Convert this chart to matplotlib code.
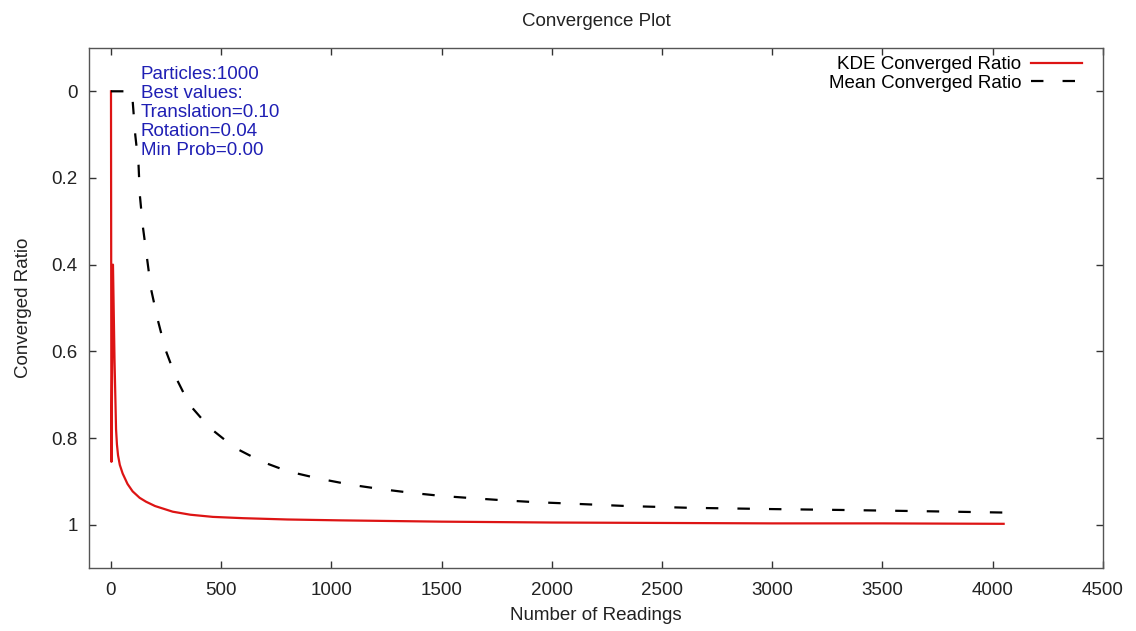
import matplotlib
matplotlib.use("Agg")
import matplotlib.pyplot as plt

plt.rcParams['font.family'] = ['Liberation Sans', 'DejaVu Sans']

# KDE converged ratio
kde_x = [0, 2, 9, 16, 23, 27, 32, 40, 53, 75, 98, 130, 159, 200, 280, 360, 462,
         600, 800, 1038, 1500, 2000, 2500, 3000, 3500, 4050]
kde_y = [0, 0.855, 0.40, 0.62, 0.780, 0.815, 0.840, 0.862, 0.882, 0.906, 0.923,
         0.938, 0.947, 0.957, 0.970, 0.977, 0.982, 0.985, 0.988, 0.990, 0.993,
         0.995, 0.996, 0.997, 0.997, 0.998]

# Mean converged ratio
mean_x = [0, 95, 98, 110, 125, 131, 144, 166, 182, 212, 247, 295, 356, 447,
          560, 682, 803, 947, 1090, 1227, 1371, 1507, 1644, 1788, 1924, 2068,
          2205, 2341, 2485, 2620, 3000, 3310, 3700, 4050]
mean_y = [0, 0, 0.02, 0.10, 0.17, 0.24, 0.31, 0.395, 0.457, 0.527, 0.596,
          0.661, 0.723, 0.776, 0.822, 0.854, 0.877, 0.894, 0.908, 0.918, 0.927,
          0.934, 0.939, 0.944, 0.948, 0.951, 0.954, 0.957, 0.959, 0.961, 0.964,
          0.966, 0.969, 0.972]

x_ticks = [0, 500, 1000, 1500, 2000, 2500, 3000, 3500, 4000, 4500]
y_ticks = [0, 0.2, 0.4, 0.6, 0.8, 1]
y_tick_labels = ['0', '0.2', '0.4', '0.6', '0.8', '1']

info = "Particles:1000\nBest values:\nTranslation=0.10\nRotation=0.04\nMin Prob=0.00"

fs = 13.5
fig = plt.figure(figsize=(11.36, 6.31), dpi=100)
ax = fig.add_axes([0.0783, 0.0998, 0.8925, 0.8242])

ax.plot(kde_x, kde_y, color='#dd1414', lw=1.6, label='KDE Converged Ratio')
ax.plot(mean_x, mean_y, color='black', lw=1.6, linestyle=(0, (5.6, 8.6)),
        label='Mean Converged Ratio')

ax.set_xlim(-100, 4500)
ax.set_ylim(1.1, -0.1)
ax.set_xticks(x_ticks)
ax.set_yticks(y_ticks)
ax.set_yticklabels(y_tick_labels)
ax.tick_params(direction='in', length=5, width=1, top=True, right=True,
               labelsize=fs, labelcolor='#222222', pad=8, color='#333333')
ax.tick_params(axis='x', pad=10)
for s in ax.spines.values():
    s.set_color('#555555')
    s.set_linewidth(1.0)

ax.set_xlabel("Number of Readings", fontsize=fs, color='#222222', labelpad=6)
ax.set_ylabel("Converged Ratio", fontsize=fs, color='#222222', labelpad=14)
ax.set_title("Convergence Plot", fontsize=fs, color='#222222', pad=16)

ax.text(141 / 1136, 1 - 66 / 631, info, transform=fig.transFigure,
        fontsize=fs, color='#1f1fb4', va='top', ha='left', linespacing=1.15)

ax.legend(loc='upper right', bbox_to_anchor=(1082 / 1136, 1 - 56 / 631),
          bbox_transform=fig.transFigure, frameon=False, markerfirst=False,
          fontsize=fs, handlelength=2.7, handletextpad=0.55, labelspacing=0.08,
          borderpad=0, borderaxespad=0)

fig.savefig("out.png", dpi=100)
